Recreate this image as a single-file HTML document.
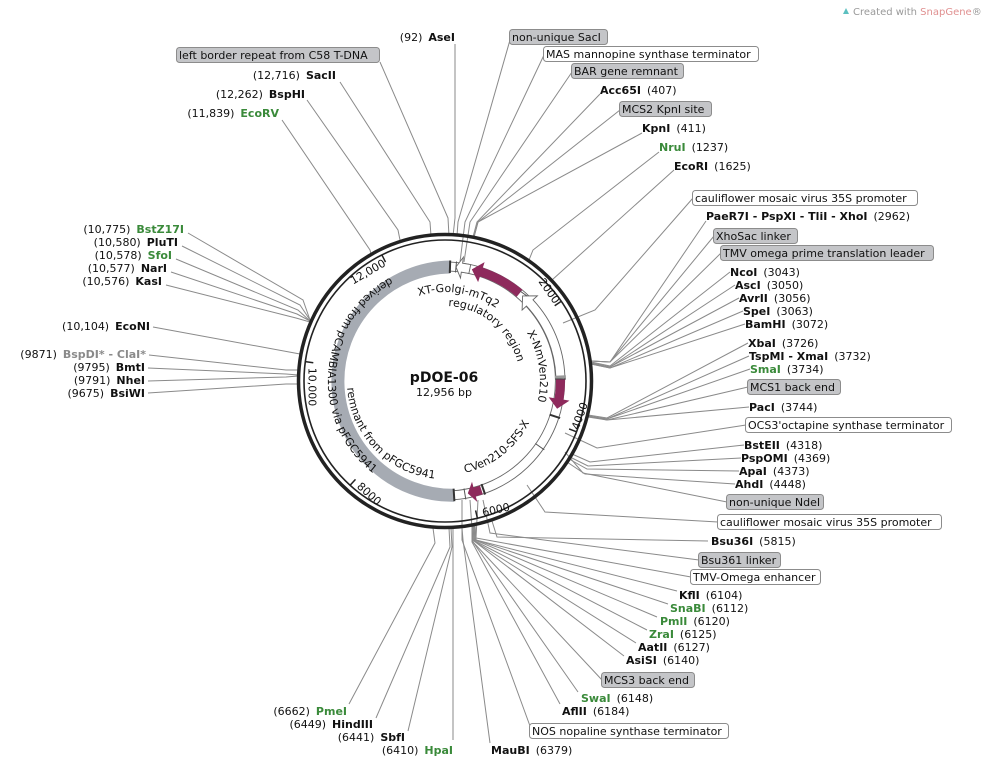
<!DOCTYPE html>
<html><head><meta charset="utf-8"><style>
html,body{margin:0;padding:0;background:#fff;}
svg{display:block;font-family:"DejaVu Sans","Liberation Sans",sans-serif;font-size:11px;}
.b{font-weight:bold}
.g{fill:#3a8a3a}
.l{stroke:#8a8a8a;stroke-width:1;fill:none}
.gb{fill:#c4c5c8;stroke:#8c8c8c;stroke-width:1}
.wb{fill:#fff;stroke:#8c8c8c;stroke-width:1}
</style></head><body>
<svg width="985" height="765" viewBox="0 0 985 765" xmlns="http://www.w3.org/2000/svg">
<rect width="985" height="765" fill="#fff"/>
<path d="M843 14 l3 -6 l3 6 z" fill="#5cc0c0"/>
<text x="853" y="15" font-size="10" fill="#999">Created with <tspan fill="#e09090">SnapGene</tspan>®</text>

<g class="l">
<polyline points="455,44 455,218 453,236"/>
<polyline points="380,62 448,218 449,236"/>
<polyline points="340,82 430,222 431,236"/>
<polyline points="307,100 398,230 400,240"/>
<polyline points="282,120 370,250 371,254"/>
<polyline points="188,233 303,300 310,320"/>
<polyline points="182,246 300,305 310,320"/>
<polyline points="176,259 298,310 310,321"/>
<polyline points="171,272 297,314 310,321"/>
<polyline points="166,285 296,318 310,322"/>
<polyline points="153,327 300,354"/>
<polyline points="149,355 286,370 298,370"/>
<polyline points="148,368 286,374 298,375"/>
<polyline points="148,381 286,377 298,376"/>
<polyline points="148,393 286,384 298,384"/>
<polyline points="349,704 435,543 433,528"/>
<polyline points="376,718 450,547 449,528"/>
<polyline points="408,731 452,547 451,528"/>
<polyline points="453,740 453,528"/>
<polyline points="490,743 463,540 462,528"/>
<polyline points="530,726 462,540 462,500"/>
<polyline points="560,704 472,542 472,526"/>
<polyline points="578,692 473,542 472,526"/>
<polyline points="602,680 473,542 470,500"/>
<polyline points="624,656 474,541 473,526"/>
<polyline points="636,643 474,541 473,526"/>
<polyline points="647,630 475,541 474,526"/>
<polyline points="657,617 475,540 474,526"/>
<polyline points="668,604 476,540 475,526"/>
<polyline points="677,591 476,540 475,526"/>
<polyline points="691,577 476,538 478,500"/>
<polyline points="699,560 490,533 483,500"/>
<polyline points="708,541 497,537 492,521"/>
<polyline points="718,522 545,512 527,485"/>
<polyline points="727,502 583,473 565,452"/>
<polyline points="735,484 585,474 567,462"/>
<polyline points="739,471 587,469 569,459"/>
<polyline points="741,458 588,466 570,457"/>
<polyline points="744,445 590,462 572,454"/>
<polyline points="746,425 597,448 565,433"/>
<polyline points="749,407 607,420 588,417"/>
<polyline points="748,387 607,420 588,416"/>
<polyline points="750,369 607,419 588,416"/>
<polyline points="749,356 607,419 588,416"/>
<polyline points="748,343 607,418 588,415"/>
<polyline points="745,324 610,368 591,364"/>
<polyline points="743,311 610,368 591,364"/>
<polyline points="739,298 610,367 591,363"/>
<polyline points="735,285 610,367 591,363"/>
<polyline points="730,272 610,366 591,362"/>
<polyline points="721,253 610,362 591,361"/>
<polyline points="714,236 610,362 591,361"/>
<polyline points="706,221 610,362 591,361"/>
<polyline points="693,198 595,310 563,323"/>
<polyline points="674,170 552,280"/>
<polyline points="659,152 533,250 529,260"/>
<polyline points="642,133 478,222 474,237"/>
<polyline points="620,110 478,222 474,237"/>
<polyline points="600,94 477,222 473,237"/>
<polyline points="572,72 470,222 464,262"/>
<polyline points="544,55 465,222 460,262"/>
<polyline points="510,40 458,222 457,236"/>
</g>

<circle cx="445" cy="381" r="146.5" fill="none" stroke="#222" stroke-width="3.5"/>
<circle cx="445" cy="381" r="141" fill="none" stroke="#222" stroke-width="1.6"/>
<g stroke="#222" stroke-width="1.5">
<line x1="381.9" y1="254.9" x2="385.5" y2="262.1"/>
<line x1="561.3" y1="301.3" x2="554.7" y2="305.8"/>
<line x1="576.6" y1="431.8" x2="569.1" y2="428.9"/>
<line x1="477.4" y1="518.2" x2="475.6" y2="510.4"/>
<line x1="350.1" y1="485.3" x2="355.5" y2="479.4"/>
<line x1="305.3" y1="361.6" x2="313.3" y2="362.7"/>
</g>
<g font-size="11" fill="#111" text-anchor="middle" dominant-baseline="central">
<text transform="translate(368,272) rotate(-30)">12,000</text>
<text transform="translate(549,291) rotate(55)">2000</text>
<text transform="translate(580,416) rotate(-70)">4000</text>
<text transform="translate(496,510) rotate(-13)">6000</text>
<text transform="translate(369,494) rotate(42)">8000</text>
<text transform="translate(312,387) rotate(90)">10,000</text>
</g>

<g transform="translate(2,0)">
<path d="M448.2 262.1 A119 119 0 0 1 452.3 499.7" fill="none" stroke="#666" stroke-width="0.9"/>
<path d="M447.8 271.1 A110 110 0 0 1 451.7 490.7" fill="none" stroke="#666" stroke-width="0.9"/>
<path d="M452.1 495.2 A114 114 0 1 1 448 267" fill="none" stroke="#a6abb3" stroke-width="13"/>
<path d="M454 266.9 L461.4 257.2 L460.6 263.2 L468.7 264.6 L466.9 273.4 L459.3 272.1 L458.5 278 Z" fill="#fff" stroke="#666" stroke-width="0.9"/>
<path d="M469.8 269.4 L482.6 262.1 L480.8 267.8 A119 119 0 0 1 520.5 289.8 L514.7 296.7 A110 110 0 0 0 478 276.4 L476.1 282.1 Z" fill="#8e2a5c"/>
<path d="M520.6 295.9 L535.4 295.8 L531 299.8 A119 119 0 0 1 562.9 376.8 L553.9 377.2 A110 110 0 0 0 524.5 306 L520.1 310.1 Z" fill="#fff" stroke="#666" stroke-width="0.9"/>
<path d="M563 378.9 A119 119 0 0 1 561.5 399.6 L567.5 400.6 L555.1 408.7 L546.7 397.3 L552.6 398.2 A110 110 0 0 0 554 379.1 Z" fill="#8e2a5c"/>
<path d="M480.8 494.2 A119 119 0 0 1 473.8 496.2 L475.3 502 L465.8 493.4 L470 481.7 L471.5 487.5 A110 110 0 0 0 478 485.6 Z" fill="#8e2a5c"/>
<g stroke="#333" stroke-width="2">
<line x1="447.8" y1="273" x2="448.2" y2="260.5"/>
<line x1="451.6" y1="488.7" x2="452.4" y2="501.2"/>
<line x1="479.5" y1="484.1" x2="483.1" y2="494.5"/>
<line x1="547.7" y1="414.7" x2="558.1" y2="418.1"/>
</g>
<g stroke="#555" stroke-width="1">
<line x1="453.5" y1="272.4" x2="454.5" y2="261.5"/>
<line x1="462" y1="488.5" x2="463.8" y2="499.4"/>
<line x1="533.3" y1="443.5" x2="542.3" y2="449.8"/>
<line x1="525" y1="296" x2="518" y2="291"/>
</g>
<line x1="552.9" y1="377.2" x2="563.9" y2="376.8" stroke="#999" stroke-width="3"/>
<line x1="553" y1="379" x2="564" y2="379" stroke="#444" stroke-width="1"/>
</g>

<defs>
<path id="p1" d="M399.2 304.7 A89 89 0 0 1 512.2 322.6"/>
<path id="p2" d="M443.7 306 A75 75 0 0 1 518.6 366.7"/>
<path id="p3" d="M507.3 309.3 A95 95 0 0 1 526.4 429.9"/>
<path id="p4" d="M441.7 474.9 A94 94 0 0 0 536.9 400.5"/>
<path id="p5" d="M347.5 370.8 A98 98 0 0 0 451.8 478.8"/>
<path id="p6" d="M434.8 264.4 A117 117 0 0 0 414.7 494"/>
</defs>
<g font-size="11" fill="#111" text-anchor="middle">
<text><textPath href="#p1" startOffset="50%">XT-Golgi-mTq2</textPath></text>
<text><textPath href="#p2" startOffset="50%">regulatory region</textPath></text>
<text><textPath href="#p3" startOffset="50%">X-NmVen210</textPath></text>
<text><textPath href="#p4" startOffset="50%">CVen210-SFS-X</textPath></text>
<text><textPath href="#p5" startOffset="50%">remnant from pFGC5941</textPath></text>
<text><textPath href="#p6" startOffset="50%">derived from pCAMBIA1300 via pFGC5941</textPath></text>
</g>

<text x="444" y="382" text-anchor="middle" font-size="14" font-weight="bold" fill="#111">pDOE-06</text>
<text x="444" y="396" text-anchor="middle" font-size="11" fill="#111">12,956 bp</text>

<g fill="#111" text-anchor="end">
<text x="455" y="41">(92)<tspan dx="6" class="b">AseI</tspan></text>
<text x="336" y="79">(12,716)<tspan dx="6" class="b">SacII</tspan></text>
<text x="305" y="98">(12,262)<tspan dx="6" class="b">BspHI</tspan></text>
<text x="279" y="117">(11,839)<tspan dx="6" class="b g">EcoRV</tspan></text>
<text x="184" y="233">(10,775)<tspan dx="6" class="b g">BstZ17I</tspan></text>
<text x="178" y="246">(10,580)<tspan dx="6" class="b">PluTI</tspan></text>
<text x="172" y="259">(10,578)<tspan dx="6" class="b g">SfoI</tspan></text>
<text x="167" y="272">(10,577)<tspan dx="6" class="b">NarI</tspan></text>
<text x="162" y="285">(10,576)<tspan dx="6" class="b">KasI</tspan></text>
<text x="150" y="330">(10,104)<tspan dx="6" class="b">EcoNI</tspan></text>
<text x="146" y="358">(9871)<tspan dx="6" class="b" fill="#8a8a8a">BspDI* - ClaI*</tspan></text>
<text x="145" y="371">(9795)<tspan dx="6" class="b">BmtI</tspan></text>
<text x="145" y="384">(9791)<tspan dx="6" class="b">NheI</tspan></text>
<text x="145" y="397">(9675)<tspan dx="6" class="b">BsiWI</tspan></text>
<text x="347" y="715">(6662)<tspan dx="6" class="b g">PmeI</tspan></text>
<text x="373" y="728">(6449)<tspan dx="6" class="b">HindIII</tspan></text>
<text x="405" y="741">(6441)<tspan dx="6" class="b">SbfI</tspan></text>
<text x="453" y="754">(6410)<tspan dx="6" class="b g">HpaI</tspan></text>
</g>

<g fill="#111">
<text x="491" y="754"><tspan class="b">MauBI</tspan><tspan dx="6">(6379)</tspan></text>
<text x="562" y="715"><tspan class="b">AflII</tspan><tspan dx="6">(6184)</tspan></text>
<text x="581" y="702"><tspan class="b g">SwaI</tspan><tspan dx="6">(6148)</tspan></text>
<text x="626" y="664"><tspan class="b">AsiSI</tspan><tspan dx="6">(6140)</tspan></text>
<text x="638" y="651"><tspan class="b">AatII</tspan><tspan dx="6">(6127)</tspan></text>
<text x="649" y="638"><tspan class="b g">ZraI</tspan><tspan dx="6">(6125)</tspan></text>
<text x="660" y="625"><tspan class="b g">PmlI</tspan><tspan dx="6">(6120)</tspan></text>
<text x="670" y="612"><tspan class="b g">SnaBI</tspan><tspan dx="6">(6112)</tspan></text>
<text x="679" y="599"><tspan class="b">KflI</tspan><tspan dx="6">(6104)</tspan></text>
<text x="711" y="545"><tspan class="b">Bsu36I</tspan><tspan dx="6">(5815)</tspan></text>
<text x="735" y="488"><tspan class="b">AhdI</tspan><tspan dx="6">(4448)</tspan></text>
<text x="739" y="475"><tspan class="b">ApaI</tspan><tspan dx="6">(4373)</tspan></text>
<text x="741" y="462"><tspan class="b">PspOMI</tspan><tspan dx="6">(4369)</tspan></text>
<text x="744" y="449"><tspan class="b">BstEII</tspan><tspan dx="6">(4318)</tspan></text>
<text x="749" y="411"><tspan class="b">PacI</tspan><tspan dx="6">(3744)</tspan></text>
<text x="750" y="373"><tspan class="b g">SmaI</tspan><tspan dx="6">(3734)</tspan></text>
<text x="749" y="360"><tspan class="b">TspMI - XmaI</tspan><tspan dx="6">(3732)</tspan></text>
<text x="748" y="347"><tspan class="b">XbaI</tspan><tspan dx="6">(3726)</tspan></text>
<text x="745" y="328"><tspan class="b">BamHI</tspan><tspan dx="6">(3072)</tspan></text>
<text x="743" y="315"><tspan class="b">SpeI</tspan><tspan dx="6">(3063)</tspan></text>
<text x="739" y="302"><tspan class="b">AvrII</tspan><tspan dx="6">(3056)</tspan></text>
<text x="735" y="289"><tspan class="b">AscI</tspan><tspan dx="6">(3050)</tspan></text>
<text x="730" y="276"><tspan class="b">NcoI</tspan><tspan dx="6">(3043)</tspan></text>
<text x="706" y="220"><tspan class="b">PaeR7I - PspXI - TliI - XhoI</tspan><tspan dx="6">(2962)</tspan></text>
<text x="674" y="170"><tspan class="b">EcoRI</tspan><tspan dx="6">(1625)</tspan></text>
<text x="659" y="151"><tspan class="b g">NruI</tspan><tspan dx="6">(1237)</tspan></text>
<text x="642" y="132"><tspan class="b">KpnI</tspan><tspan dx="6">(411)</tspan></text>
<text x="600" y="94"><tspan class="b">Acc65I</tspan><tspan dx="6">(407)</tspan></text>
</g>

<g>
<rect class="gb" x="176.5" y="47.5" width="203" height="15" rx="3"/>
<rect class="gb" x="509.5" y="29.5" width="98" height="15" rx="3"/>
<rect class="wb" x="543.5" y="46.5" width="215" height="15" rx="3"/>
<rect class="gb" x="571.5" y="63.5" width="112" height="15" rx="3"/>
<rect class="gb" x="619.5" y="101.5" width="92" height="15" rx="3"/>
<rect class="wb" x="692.5" y="190.5" width="225" height="15" rx="3"/>
<rect class="gb" x="713.5" y="228.5" width="84" height="15" rx="3"/>
<rect class="gb" x="720.5" y="245.5" width="213" height="15" rx="3"/>
<rect class="gb" x="747.5" y="379.5" width="93" height="15" rx="3"/>
<rect class="wb" x="745.5" y="417.5" width="206" height="15" rx="3"/>
<rect class="gb" x="726.5" y="494.5" width="97" height="15" rx="3"/>
<rect class="wb" x="717.5" y="514.5" width="224" height="15" rx="3"/>
<rect class="gb" x="698.5" y="552.5" width="82" height="15" rx="3"/>
<rect class="wb" x="690.5" y="569.5" width="130" height="15" rx="3"/>
<rect class="gb" x="601.5" y="672.5" width="93" height="15" rx="3"/>
<rect class="wb" x="529.5" y="723.5" width="199" height="15" rx="3"/>
</g>
<g fill="#111">
<text x="179" y="59">left border repeat from C58 T-DNA</text>
<text x="512" y="41">non-unique SacI</text>
<text x="546" y="58">MAS mannopine synthase terminator</text>
<text x="574" y="75">BAR gene remnant</text>
<text x="622" y="113">MCS2 KpnI site</text>
<text x="695" y="202">cauliflower mosaic virus 35S promoter</text>
<text x="716" y="240">XhoSac linker</text>
<text x="723" y="257">TMV omega prime translation leader</text>
<text x="750" y="391">MCS1 back end</text>
<text x="748" y="429">OCS3'octapine synthase terminator</text>
<text x="729" y="506">non-unique NdeI</text>
<text x="720" y="526">cauliflower mosaic virus 35S promoter</text>
<text x="701" y="564">Bsu361 linker</text>
<text x="693" y="581">TMV-Omega enhancer</text>
<text x="604" y="684">MCS3 back end</text>
<text x="532" y="735">NOS nopaline synthase terminator</text>
</g>
</svg>
</body></html>
